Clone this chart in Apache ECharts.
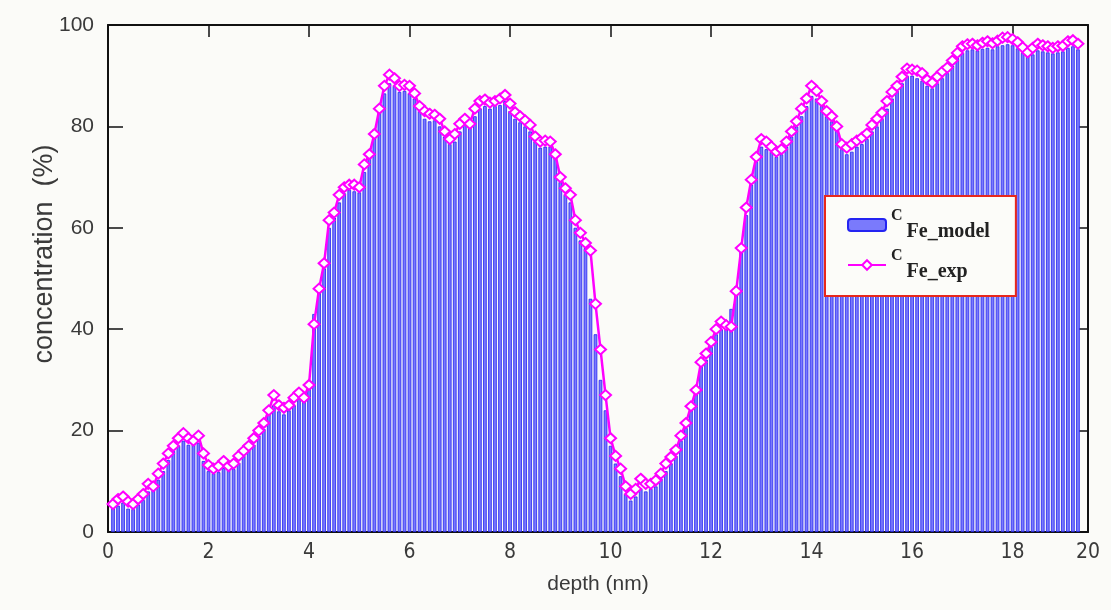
<!DOCTYPE html>
<html>
<head>
<meta charset="utf-8">
<script src="https://cdn.jsdelivr.net/npm/echarts@6/dist/echarts.min.js"></script>
<style>
html,body{margin:0;padding:0;background:#fbfbf8;}
#chart{width:1111px;height:610px;}
</style>
</head>
<body>
<div id="chart"></div>
<script>
// depth (nm) sample positions
const depth = [
0.1,0.2,0.3,0.4,0.5,0.6,0.7,0.8,0.9,1.0,
1.1,1.2,1.3,1.4,1.5,1.6,1.7,1.8,1.9,2.0,
2.1,2.2,2.3,2.4,2.5,2.6,2.7,2.8,2.9,3.0,
3.1,3.2,3.3,3.4,3.5,3.6,3.7,3.8,3.9,4.0,
4.1,4.2,4.3,4.4,4.5,4.6,4.7,4.8,4.9,5.0,
5.1,5.2,5.3,5.4,5.5,5.6,5.7,5.8,5.9,6.0,
6.1,6.2,6.3,6.4,6.5,6.6,6.7,6.8,6.9,7.0,
7.1,7.2,7.3,7.4,7.5,7.6,7.7,7.8,7.9,8.0,
8.1,8.2,8.3,8.4,8.5,8.6,8.7,8.8,8.9,9.0,
9.1,9.2,9.3,9.4,9.5,9.6,9.7,9.8,9.9,10.0,
10.1,10.2,10.3,10.4,10.5,10.6,10.7,10.8,10.9,11.0,
11.1,11.2,11.3,11.4,11.5,11.6,11.7,11.8,11.9,12.0,
12.1,12.2,12.3,12.4,12.5,12.6,12.7,12.8,12.9,13.0,
13.1,13.2,13.3,13.4,13.5,13.6,13.7,13.8,13.9,14.0,
14.1,14.2,14.3,14.4,14.5,14.6,14.7,14.8,14.9,15.0,
15.1,15.2,15.3,15.4,15.5,15.6,15.7,15.8,15.9,16.0,
16.1,16.2,16.3,16.4,16.5,16.6,16.7,16.8,16.9,17.0,
17.1,17.2,17.3,17.4,17.5,17.6,17.7,17.8,17.9,18.0,
18.1,18.2,18.3,18.4,18.5,18.6,18.7,18.8,18.9,19.0,
19.1,19.2,19.3
];
// C_Fe_exp (%)
const feExp = [
5.5,6.5,7.0,6.0,5.5,6.5,7.5,9.5,9.0,11.5,
13.5,15.5,17.0,18.5,19.5,18.5,18.0,19.0,15.5,13.2,
12.5,13.0,14.0,13.0,13.5,15.0,16.0,17.0,18.5,20.0,
21.5,24.0,27.0,25.0,24.5,25.0,26.5,27.5,26.5,29.0,
41.0,48.0,53.0,61.5,63.0,66.5,68.0,68.5,68.5,68.0,
72.5,74.5,78.5,83.5,88.0,90.2,89.5,88.0,88.2,88.0,
86.5,84.0,83.0,82.5,82.3,81.5,79.0,77.5,78.5,80.5,
81.5,80.5,83.5,85.0,85.3,84.7,85.0,85.5,86.2,84.5,
82.8,82.0,81.2,80.3,78.0,77.0,77.2,77.0,74.5,70.0,
67.8,66.5,61.5,59.0,57.0,55.5,45.0,36.0,27.0,18.5,
15.0,12.5,9.0,7.5,8.5,10.5,9.5,9.5,10.2,11.5,
13.5,14.8,16.2,19.0,21.5,24.8,28.0,33.5,35.2,37.5,
40.0,41.5,40.8,40.5,47.5,56.0,64.0,69.5,74.0,77.5,
77.0,76.0,75.0,75.5,77.0,79.0,81.0,83.5,85.5,88.0,
87.0,85.0,83.0,82.0,80.0,76.5,75.8,76.5,77.2,77.8,
78.6,80.3,81.5,82.7,85.0,86.8,88.0,89.8,91.4,91.2,
91.0,90.5,89.2,88.6,89.8,90.8,91.6,93.0,94.5,95.8,
96.2,96.3,96.0,96.5,96.8,96.4,96.9,97.5,97.6,97.2,
96.6,95.6,94.6,95.5,96.3,96.0,95.8,95.5,95.8,95.9,
96.8,97.0,96.3
];
// C_Fe_model (%)
const feModel = [
4.8,5.2,5.8,4.6,4.5,5.4,6.3,8.0,8.2,10.3,
12.0,14.2,16.0,17.0,18.0,17.2,17.5,17.6,14.0,12.0,
11.6,11.8,12.6,12.2,12.4,13.6,15.0,16.2,17.2,19.0,
20.3,23.5,25.0,23.8,23.2,24.0,25.0,26.3,25.8,28.5,
43.0,48.5,52.0,60.0,62.0,65.0,66.8,67.5,67.2,67.0,
71.0,74.0,79.5,83.0,86.5,88.5,88.0,86.8,87.0,86.5,
85.5,83.0,81.5,81.0,81.2,80.0,78.0,76.5,77.0,79.0,
80.5,79.8,82.0,83.5,84.0,83.5,84.0,84.2,85.0,83.0,
81.5,80.8,80.0,79.0,77.0,75.8,76.0,76.0,75.0,69.0,
66.5,65.0,60.0,57.5,56.0,46.0,39.0,30.0,24.0,17.0,
13.5,11.0,7.5,6.2,7.0,8.5,8.0,8.5,9.0,10.5,
12.0,13.5,15.0,18.0,20.5,24.0,27.5,33.0,34.0,36.5,
39.0,40.0,40.0,44.0,48.5,55.5,62.5,68.5,73.0,76.0,
75.5,75.0,74.0,74.5,76.0,78.0,80.0,82.0,84.0,86.0,
85.5,84.0,82.0,81.0,79.5,75.5,74.5,75.0,76.0,76.5,
77.5,79.0,80.0,81.5,83.5,85.5,87.0,88.5,90.0,90.0,
89.5,89.0,88.0,87.5,88.5,89.5,90.5,92.0,93.5,94.5,
95.0,95.2,95.0,95.3,95.5,95.2,95.8,96.0,96.2,96.0,
95.4,94.5,93.8,94.2,95.0,94.8,94.6,94.4,94.6,94.8,
95.5,95.8,95.2
];
const seriesNames = ['Fe_model', 'Fe_exp'];
const xTitle = 'depth (nm)';
const yTitle = 'concentration  (%)';
const xMin = 0, xMax = 19.5, xInterval = 2;
const xEndLabel = '20';
const yMin = 0, yMax = 100, yInterval = 20;

const modelData = depth.map((d, i) => [d, feModel[i]]);
const expData = depth.map((d, i) => [d, feExp[i]]);

const chart = echarts.init(document.getElementById('chart'), null, {renderer: 'canvas'});
const labelColor = '#3a3a3a';
const frameLine = {show: true, onZero: false, lineStyle: {color: '#111', width: 2}};
const option = {
  backgroundColor: '#fbfbf8',
  animation: false,
  grid: {left: 108, right: 23, top: 25, bottom: 78},
  graphic: [{
    type: 'text',
    x: 45, y: 254,
    rotation: Math.PI / 2,
    style: {
      text: yTitle, fill: labelColor, fontSize: 27,
      fontFamily: 'Liberation Sans',
      align: 'center', verticalAlign: 'middle'
    }
  }],
  legend: {
    orient: 'vertical',
    left: 825, top: 196,
    data: seriesNames,
    backgroundColor: '#fcfcf9',
    borderColor: '#e8281c',
    borderWidth: 2,
    padding: [12, 26, 14, 22],
    itemGap: 6,
    itemWidth: 38,
    itemHeight: 12,
    formatter: function (name) { return '{c|C}{t|' + name + '}'; },
    textStyle: {
      rich: {
        c: {fontFamily: 'Liberation Serif', fontWeight: 'bold', fontSize: 16, color: '#222', verticalAlign: 'top', lineHeight: 16, padding: [0, 4, 0, 0]},
        t: {fontFamily: 'Liberation Serif', fontWeight: 'bold', fontSize: 20, color: '#222', verticalAlign: 'bottom', lineHeight: 34}
      }
    }
  },
  xAxis: [{
    type: 'value', min: xMin, max: xMax, interval: xInterval,
    position: 'bottom',
    axisLine: frameLine,
    axisTick: {show: true, inside: true, length: 5, lineStyle: {color: '#111', width: 1.5}},
    splitLine: {show: false},
    axisLabel: {
      show: true, margin: 10, color: labelColor, fontSize: 21,
      fontFamily: 'Liberation Sans Narrow, DejaVu Sans Condensed, Liberation Sans',
      showMaxLabel: true,
      formatter: function (v) { return v === xMax ? xEndLabel : String(v); }
    },
    name: xTitle, nameLocation: 'middle', nameGap: 42,
    nameTextStyle: {color: labelColor, fontSize: 21, fontFamily: 'Liberation Sans'}
  }, {
    type: 'value', min: xMin, max: xMax, interval: xInterval,
    position: 'top',
    axisLine: frameLine,
    axisTick: {show: true, inside: true, length: 12, lineStyle: {color: '#111', width: 1.5}},
    axisLabel: {show: false},
    splitLine: {show: false}
  }],
  yAxis: [{
    type: 'value', min: yMin, max: yMax, interval: yInterval,
    position: 'left',
    axisLine: frameLine,
    axisTick: {show: true, inside: true, length: 15, lineStyle: {color: '#111', width: 1.5}},
    splitLine: {show: false},
    axisLabel: {margin: 14, color: labelColor, fontSize: 21, fontFamily: 'Liberation Sans'}
  }, {
    type: 'value', min: yMin, max: yMax, interval: yInterval,
    position: 'right',
    axisLine: frameLine,
    axisTick: {show: true, inside: true, length: 9, lineStyle: {color: '#111', width: 1.5}},
    axisLabel: {show: false},
    splitLine: {show: false}
  }],
  series: [{
    name: 'Fe_model',
    type: 'bar',
    xAxisIndex: 0, yAxisIndex: 0,
    data: modelData,
    barWidth: 3.6,
    itemStyle: {color: '#7a7afc', borderColor: '#2424f2', borderWidth: 0.8}
  }, {
    name: 'Fe_exp',
    type: 'line',
    xAxisIndex: 0, yAxisIndex: 0,
    data: expData,
    symbol: 'emptyDiamond',
    symbolSize: [11, 10],
    showAllSymbol: true,
    lineStyle: {color: '#ff00ff', width: 2.5},
    itemStyle: {color: '#ff00ff', borderColor: '#ff00ff', borderWidth: 1.5},
    z: 5
  }]
};
chart.setOption(option);
</script>
</body>
</html>
